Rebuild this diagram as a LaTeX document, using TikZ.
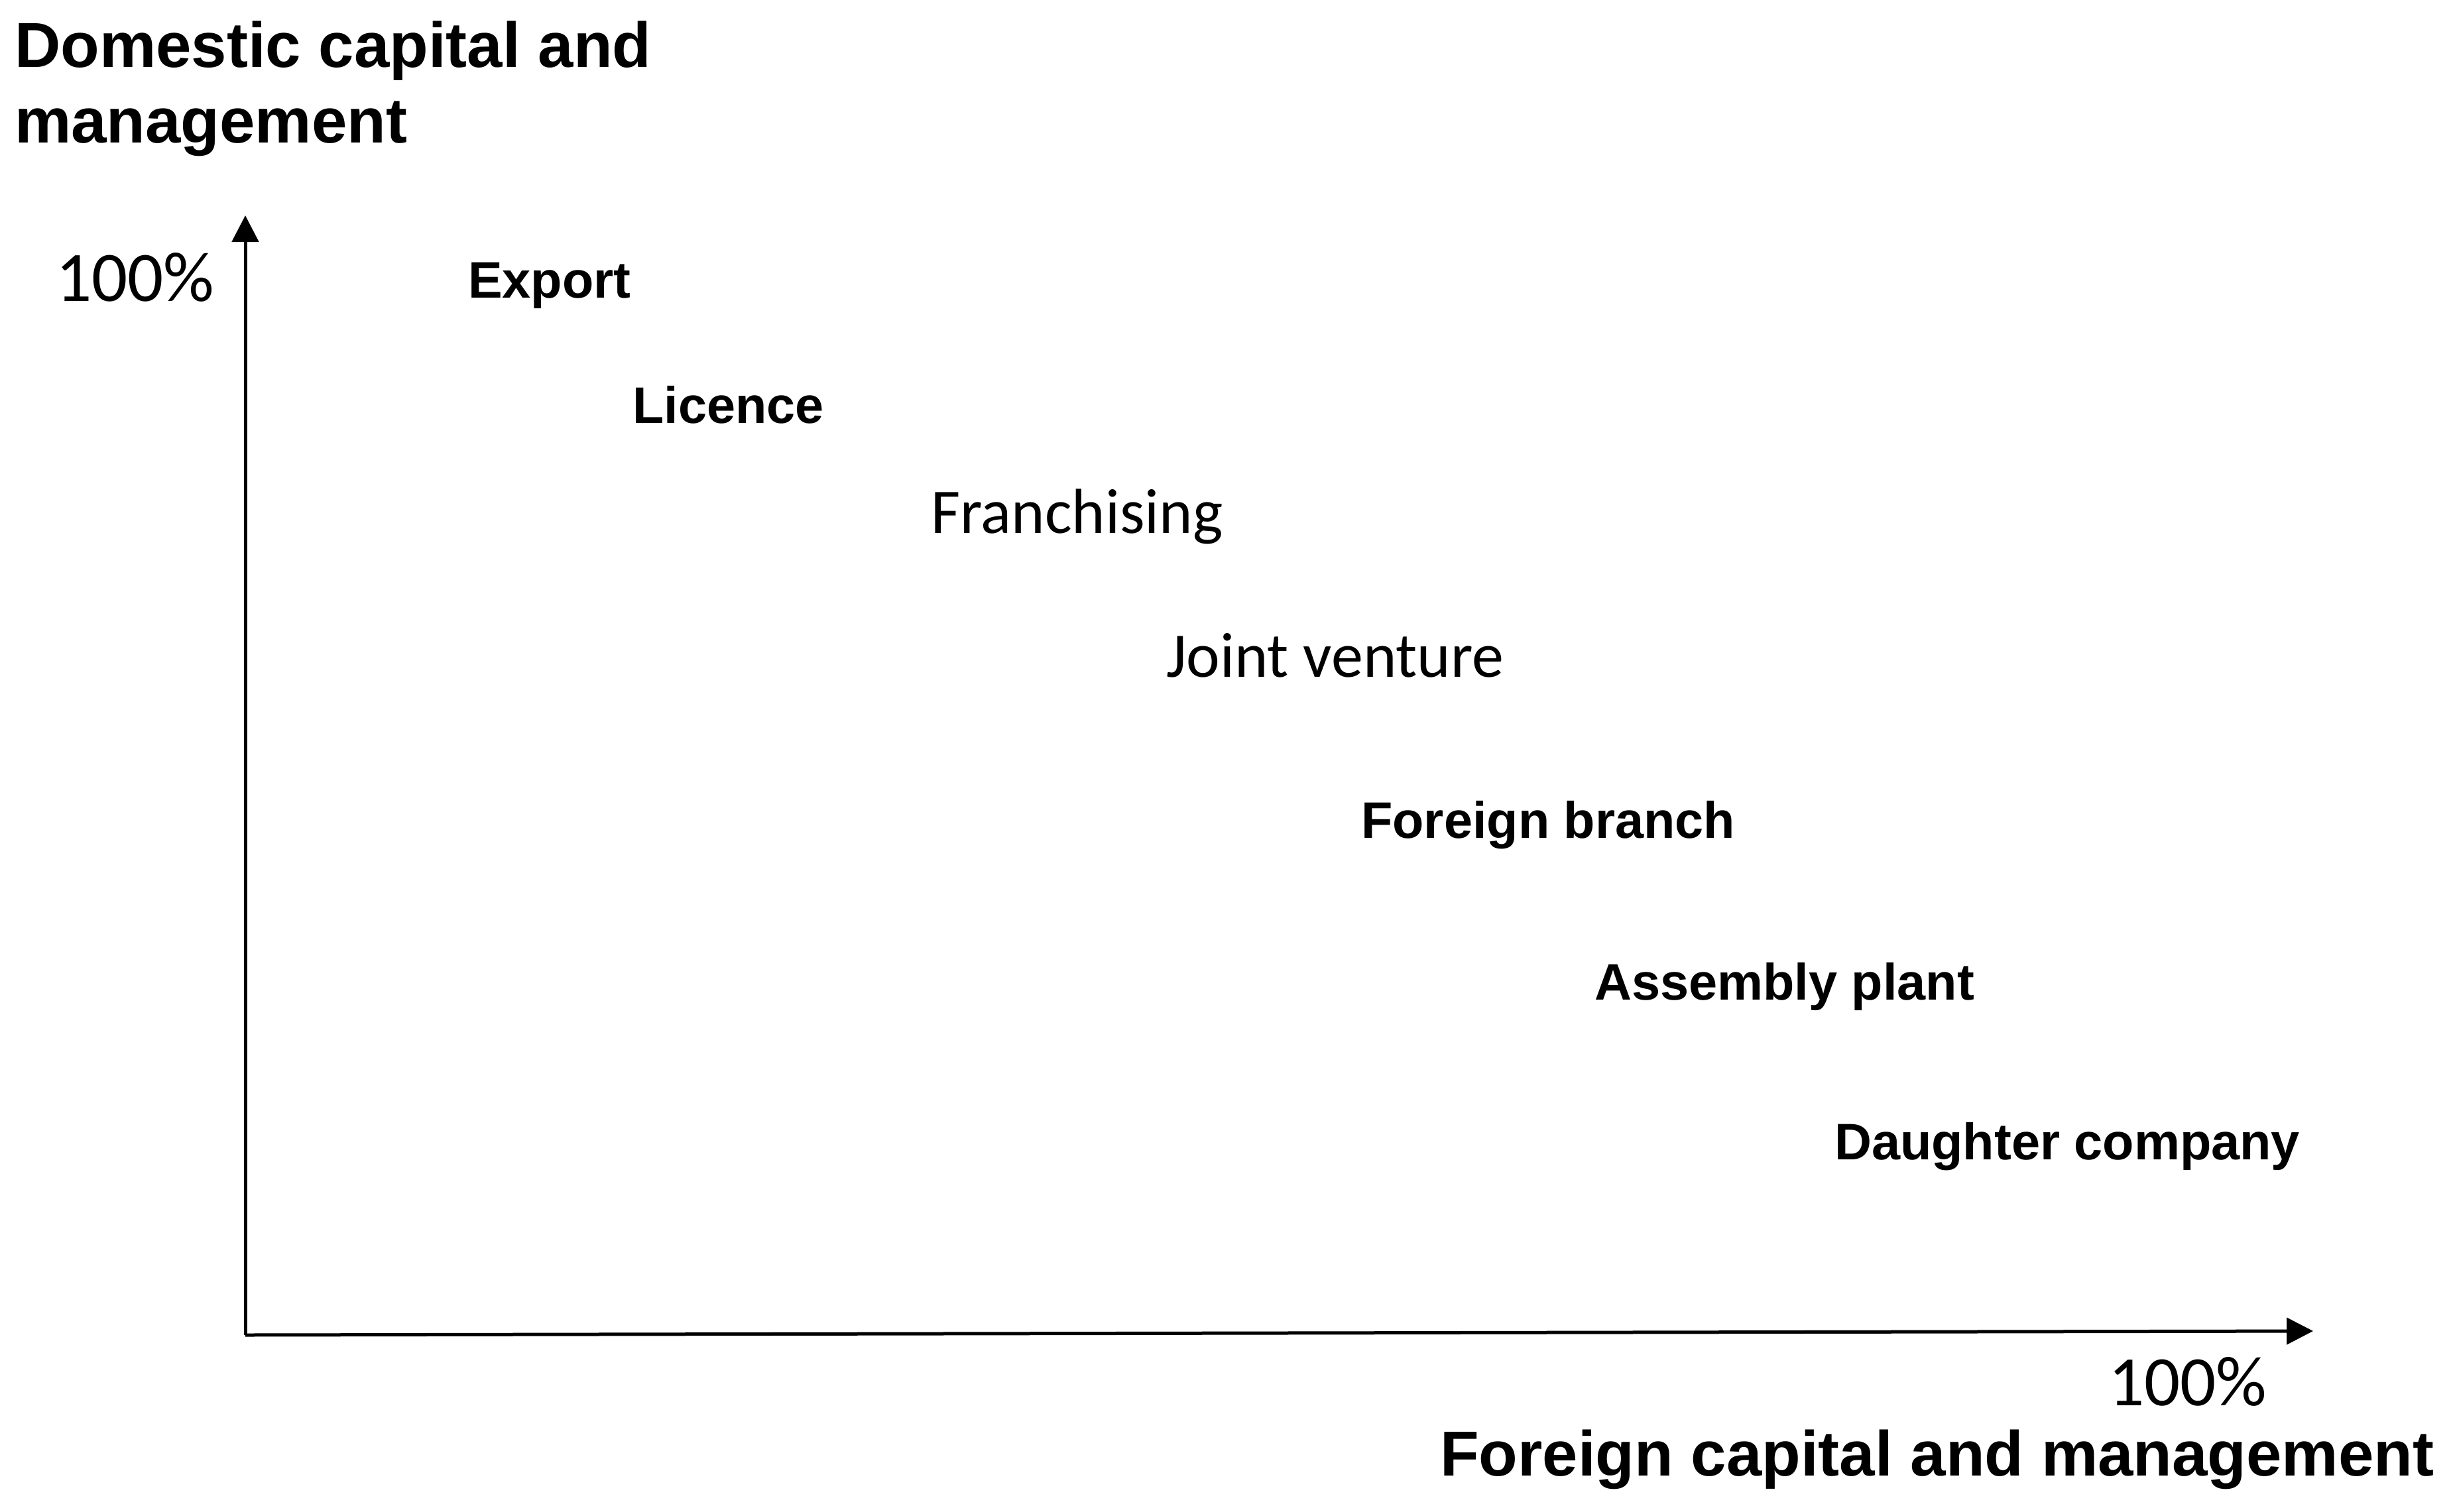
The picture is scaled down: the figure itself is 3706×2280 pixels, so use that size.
\documentclass[tikz,border=0pt]{standalone}
\usepackage{fontspec}
\setmainfont{Liberation Sans}
\newfontfamily\calib{Carlito}
\usetikzlibrary{arrows.meta}
\tikzset{
  axisline/.style={line width=5pt, -{Triangle[length=40pt,width=40pt]}},
  titletext/.style={inner sep=0pt, anchor=base west, font=\fontsize{96}{117}\selectfont\bfseries, align=left},
  boldlab/.style={inner sep=0pt, anchor=base west, font=\fontsize{77.5}{90}\selectfont\bfseries},
  lightlab/.style={inner sep=0pt, anchor=base west, font=\calib\fontsize{96}{110}\selectfont},
  pctlab/.style={inner sep=0pt, anchor=base west, font=\calib\fontsize{107}{120}\selectfont},
}
\begin{document}
\begin{tikzpicture}[x=1pt,y=-1pt]
\useasboundingbox (0,0) rectangle (3706,2280);
% axes
\coordinate (origin) at (370,2014);
\coordinate (ytip) at (370,325);
\coordinate (xtip) at (3489,2008);
\draw[axisline] (origin) -- (ytip);
\draw[axisline] (origin) -- (xtip);
% titles
\node[titletext] (ytitle1) at (22,102) {Domestic capital and};
\node[titletext] (ytitle2) at (22,215) {management};
\node[titletext] (xtitle) at (2172,2226) {Foreign capital and management};
% percent labels
\node[pctlab] (ypct) at (84,454) {100\%};
\node[pctlab] (xpct) at (3180,2120) {100\%};
% entries
\node[boldlab] (export) at (706,449) {Export};
\node[boldlab] (licence) at (954,638) {Licence};
\node[lightlab] (fran) at (1404,804) {Franchising};
\node[lightlab] (jv) at (1759,1021) {Joint venture};
\node[boldlab] (fb) at (2053,1264) {Foreign branch};
\node[boldlab] (ap) at (2405,1508) {Assembly plant};
\node[boldlab] (dc) at (2767,1749) {Daughter company};
\end{tikzpicture}
\end{document}
